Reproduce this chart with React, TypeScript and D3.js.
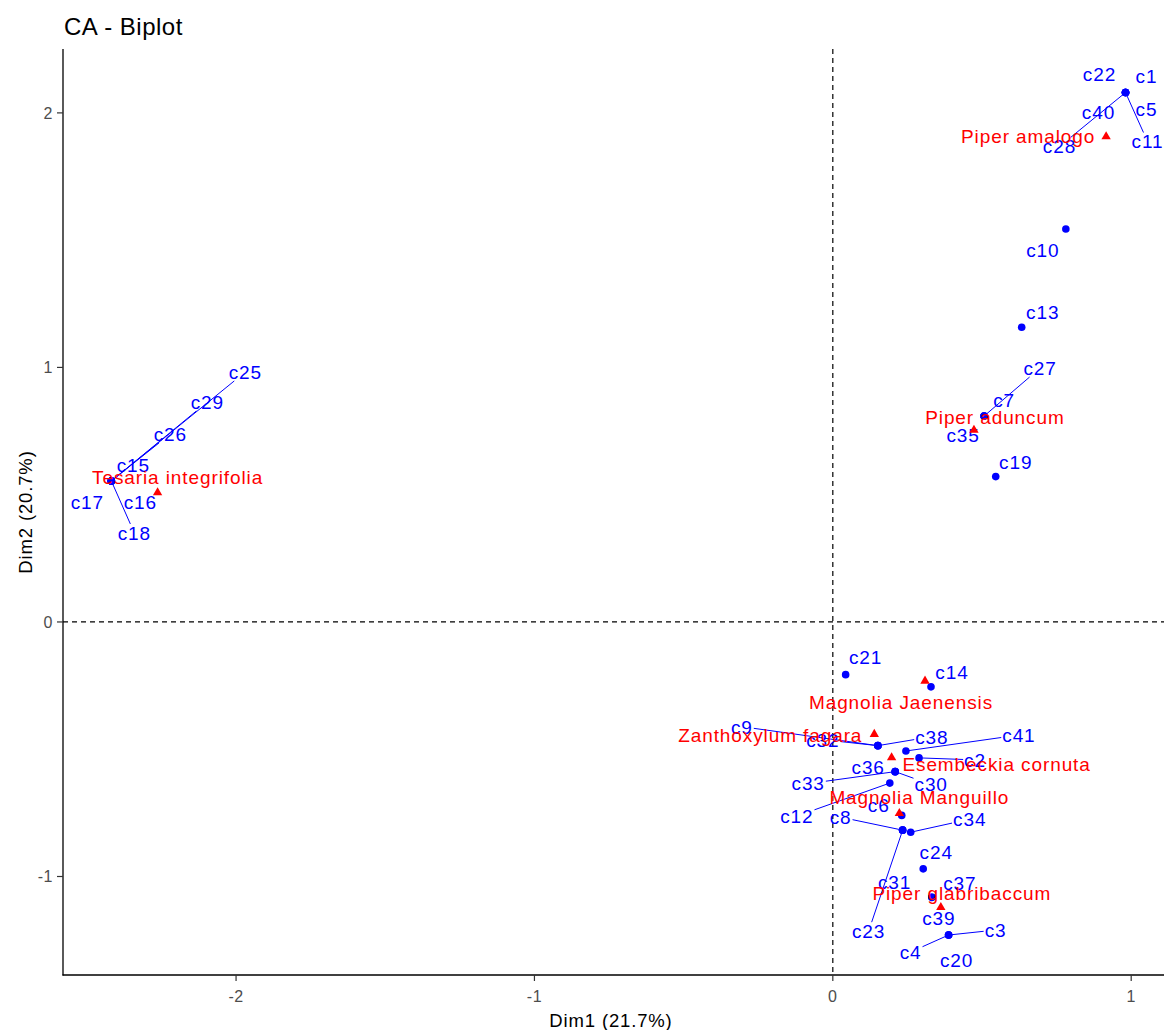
import React, { useEffect, useRef } from "react";
import * as d3 from "d3";

// ---------- DATA ----------
const colNames = [
  "c1", "c2", "c3", "c4", "c5", "c6", "c7", "c8", "c9", "c10",
  "c11", "c12", "c13", "c14", "c15", "c16", "c17", "c18", "c19", "c20",
  "c21", "c22", "c23", "c24", "c25", "c26", "c27", "c28", "c29", "c30",
  "c31", "c32", "c33", "c34", "c35", "c36", "c37", "c38", "c39", "c40", "c41",
];
const colDim1 = [
  0.981, 0.289, 0.388, 0.388, 0.981, 0.231, 0.507, 0.234, 0.151, 0.781,
  0.981, 0.191, 0.633, 0.329, -2.418, -2.418, -2.418, -2.418, 0.546, 0.388,
  0.043, 0.981, 0.234, 0.303, -2.418, -2.418, 0.507, 0.981, -2.418, 0.209,
  0.234, 0.151, 0.209, 0.261, 0.507, 0.209, 0.332, 0.151, 0.332, 0.981, 0.245,
];
const colDim2 = [
  2.080, -0.534, -1.230, -1.230, 2.080, -0.760, 0.809, -0.818, -0.486, 1.544,
  2.080, -0.633, 1.158, -0.255, 0.554, 0.554, 0.554, 0.554, 0.571, -1.230,
  -0.207, 2.080, -0.818, -0.970, 0.554, 0.554, 0.809, 2.080, 0.554, -0.588,
  -0.818, -0.486, -0.588, -0.826, 0.809, -0.588, -1.082, -0.486, -1.082, 2.080, -0.507,
];
const rowNames = [
  "Tesaria integrifolia", "Piper amalogo", "Piper aduncum", "Magnolia Jaenensis",
  "Zanthoxylum fagara", "Esembeckia cornuta", "Magnolia Manguillo", "Piper glabribaccum",
];
const rowDim1 = [-2.263, 0.916, 0.473, 0.309, 0.139, 0.197, 0.223, 0.362];
const rowDim2 = [0.508, 1.907, 0.754, -0.232, -0.441, -0.533, -0.752, -1.121];
const xTicks = [-2, -1, 0, 1];
const yTicks = [-1, 0, 1, 2];
const titleText = "CA - Biplot";
const xTitle = "Dim1 (21.7%)";
const yTitle = "Dim2 (20.7%)";

// ---------- LABEL LAYOUT (repelled label offsets in px, leader segment flag) ----------
const colLabelLayout: Record<string, [number, number, boolean]> = {
  c1: [21, -16, false], c2: [56, 2, true], c3: [47, -5, true], c4: [-38, 17, true],
  c5: [21, 17, false], c6: [-23, -10, false], c7: [20, -16, false], c8: [-62, -13, true],
  c9: [-136, -19, true], c10: [-23, 21, false], c11: [22, 49, true], c12: [-93, 33, true],
  c13: [21, -15, false], c14: [21, -15, false], c15: [22, -16, false], c16: [29, 21, false],
  c17: [-24, 21, false], c18: [23, 52, true], c19: [20, -14, false], c20: [8, 25, false],
  c21: [20, -17, false], c22: [-26, -18, false], c23: [-34, 101, true], c24: [13, -17, false],
  c25: [134, -109, true], c26: [59, -47, true], c27: [56, -48, true], c28: [-66, 54, true],
  c29: [96, -79, true], c30: [36, 13, true], c31: [-8, 52, false], c32: [-55, -6, true],
  c33: [-87, 12, true], c34: [59, -13, true], c35: [-21, 19, false], c36: [-27, -4, false],
  c37: [28, -14, false], c38: [54, -9, true], c39: [7, 21, false], c40: [-27, 20, false],
  c41: [113, -16, true],
};
const rowLabelLayout: Record<string, [number, number]> = {
  "Tesaria integrifolia": [20, -15],
  "Piper amalogo": [-78, 0],
  "Piper aduncum": [21, -13],
  "Magnolia Jaenensis": [-24, 21],
  "Zanthoxylum fagara": [-104, 1],
  "Esembeckia cornuta": [105, 7],
  "Magnolia Manguillo": [20, -16],
  "Piper glabribaccum": [21, -14],
};

const W = 1164;
const H = 1030;
const PANEL = { left: 63, right: 1167, top: 49, bottom: 975 };
const FONT = "'Liberation Sans', Arial, Helvetica, sans-serif";
const BLUE = "#0000FF";
const RED = "#FF0000";

export default function App() {
  const ref = useRef<SVGSVGElement | null>(null);

  useEffect(() => {
    const svg = d3.select(ref.current);
    svg.selectAll("*").remove();

    const x = d3.scaleLinear().domain([-2.58, 1.12]).range([PANEL.left, PANEL.right]);
    const y = d3.scaleLinear().domain([-1.387, 2.251]).range([PANEL.bottom, PANEL.top]);

    svg.append("rect").attr("width", W).attr("height", H).attr("fill", "#fff");

    // reference dashed lines
    svg.append("line")
      .attr("x1", x(0)).attr("x2", x(0)).attr("y1", PANEL.top).attr("y2", PANEL.bottom)
      .attr("stroke", "#000").attr("stroke-width", 1.2).attr("stroke-dasharray", "5,4");
    svg.append("line")
      .attr("x1", PANEL.left).attr("x2", PANEL.right).attr("y1", y(0)).attr("y2", y(0))
      .attr("stroke", "#000").attr("stroke-width", 1.2).attr("stroke-dasharray", "5,4");

    // axes
    const ax = svg.append("g").attr("font-family", FONT);
    ax.append("line").attr("x1", PANEL.left).attr("x2", PANEL.left)
      .attr("y1", PANEL.top).attr("y2", PANEL.bottom + 0.5).attr("stroke", "#000").attr("stroke-width", 1.3);
    ax.append("line").attr("x1", PANEL.left - 0.5).attr("x2", PANEL.right)
      .attr("y1", PANEL.bottom).attr("y2", PANEL.bottom).attr("stroke", "#000").attr("stroke-width", 1.3);
    xTicks.forEach((t) => {
      ax.append("line").attr("x1", x(t)).attr("x2", x(t)).attr("y1", PANEL.bottom).attr("y2", PANEL.bottom + 6)
        .attr("stroke", "#333").attr("stroke-width", 1.2);
      ax.append("text").attr("x", x(t)).attr("y", PANEL.bottom + 27).attr("text-anchor", "middle")
        .attr("font-size", 16).attr("letter-spacing", 0.5).attr("fill", "#4D4D4D").text(String(t));
    });
    yTicks.forEach((t) => {
      ax.append("line").attr("x1", PANEL.left - 6).attr("x2", PANEL.left).attr("y1", y(t)).attr("y2", y(t))
        .attr("stroke", "#333").attr("stroke-width", 1.2);
      ax.append("text").attr("x", PANEL.left - 10).attr("y", y(t)).attr("dy", "0.36em").attr("text-anchor", "end")
        .attr("font-size", 16).attr("letter-spacing", 0.5).attr("fill", "#4D4D4D").text(String(t));
    });
    ax.append("text").attr("x", 611).attr("y", 1027).attr("text-anchor", "middle")
      .attr("font-size", 18.5).attr("letter-spacing", 0.85).attr("fill", "#000").text(xTitle);
    ax.append("text").attr("transform", `translate(32,${(PANEL.top + PANEL.bottom) / 2}) rotate(-90)`)
      .attr("text-anchor", "middle").attr("font-size", 18.5).attr("letter-spacing", 0.85)
      .attr("fill", "#000").text(yTitle);
    ax.append("text").attr("x", 64).attr("y", 35).attr("font-size", 24).attr("letter-spacing", 0.5)
      .attr("fill", "#000").text(titleText);

    const plot = svg.append("g").attr("font-family", FONT);
    const segLayer = plot.append("g");
    const colPointLayer = plot.append("g");
    const colTextLayer = plot.append("g");
    const rowPointLayer = plot.append("g");
    const rowTextLayer = plot.append("g");

    // column points & labels
    colNames.forEach((name, i) => {
      const px = x(colDim1[i]);
      const py = y(colDim2[i]);
      colPointLayer.append("circle").attr("cx", px).attr("cy", py).attr("r", 3.8).attr("fill", BLUE);
      const [dx, dy, seg] = colLabelLayout[name];
      const cx = px + dx;
      const cy = py + dy;
      const t = colTextLayer.append("text").attr("x", cx).attr("y", cy).attr("dy", "0.36em")
        .attr("text-anchor", "middle").attr("font-size", 19).attr("letter-spacing", 0.9)
        .attr("fill", BLUE).text(name);
      if (seg) {
        const bb = (t.node() as SVGTextElement).getBBox();
        const hw = bb.width / 2 + 1;
        const hh = 9;
        const tt = Math.min(Math.abs(dx) > 0 ? hw / Math.abs(dx) : Infinity, Math.abs(dy) > 0 ? hh / Math.abs(dy) : Infinity);
        const ex = px + (1 - tt) * dx;
        const ey = py + (1 - tt) * dy;
        segLayer.append("line").attr("x1", px).attr("y1", py).attr("x2", ex).attr("y2", ey)
          .attr("stroke", BLUE).attr("stroke-width", 1);
      }
    });

    // row points & labels
    const tri = d3.symbol().type(d3.symbolTriangle).size(38);
    rowNames.forEach((name, i) => {
      const px = x(rowDim1[i]);
      const py = y(rowDim2[i]);
      rowPointLayer.append("path").attr("d", tri() as string)
        .attr("transform", `translate(${px},${py})`).attr("fill", RED);
      const [dx, dy] = rowLabelLayout[name];
      rowTextLayer.append("text").attr("x", px + dx).attr("y", py + dy).attr("dy", "0.36em")
        .attr("text-anchor", "middle").attr("font-size", 19).attr("letter-spacing", 0.9)
        .attr("fill", RED).text(name);
    });
  }, []);

  return (
    <svg
      ref={ref}
      width={W}
      height={H}
      style={{ position: "absolute", left: 0, top: 0, display: "block" }}
    />
  );
}
